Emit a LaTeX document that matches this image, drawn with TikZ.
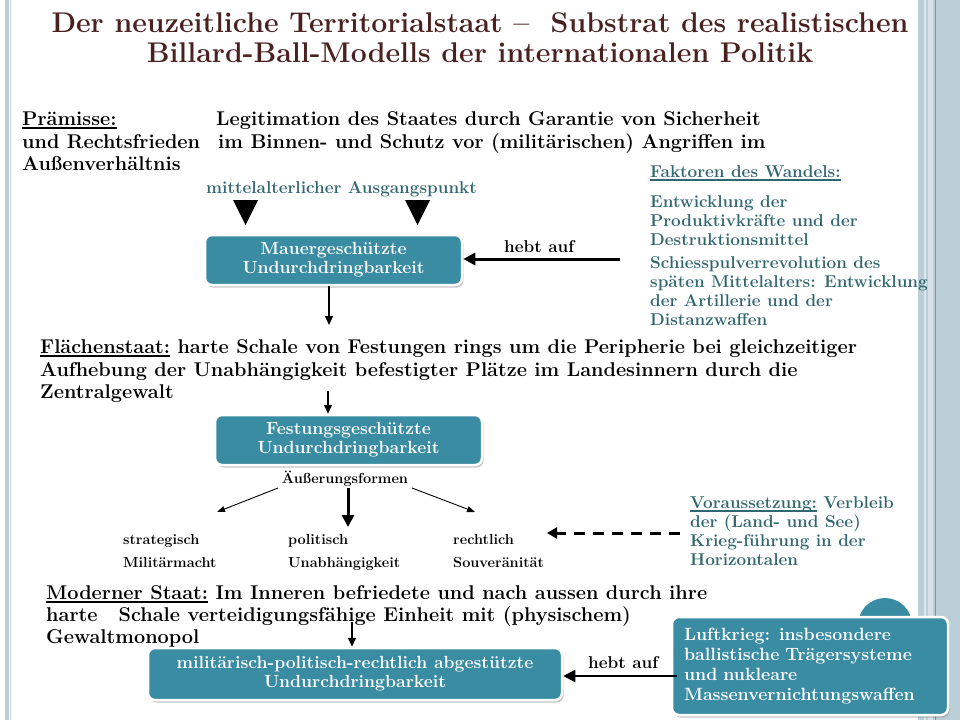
\documentclass[tikz,border=0pt]{standalone}
\usepackage{fontspec}
\usetikzlibrary{arrows.meta,shadows}
\definecolor{boxc}{HTML}{3A8CA3}
\definecolor{tealtxt}{HTML}{316770}
\definecolor{titlec}{HTML}{4A2020}
\definecolor{stripe}{HTML}{BCCFD8}
\definecolor{stripedk}{HTML}{6A9BAA}
\definecolor{stripelt}{HTML}{DCE7EB}
\newcommand\ftitle{\fontsize{28.5}{30}\selectfont\bfseries}
\newcommand\fbody{\fontsize{19.9}{22.5}\selectfont\bfseries}
\newcommand\flab{\fontsize{17.1}{19}\selectfont\bfseries}
\newcommand\fboxt{\fontsize{17.6}{19}\selectfont\bfseries}
\newcommand\fbig{\fontsize{17.8}{20}\selectfont\bfseries}
\newcommand\fsmall{\fontsize{14.5}{16}\selectfont\bfseries}
\newcommand\uln[1]{\setbox0\hbox{#1}\rlap{\rule[-3.6pt]{\wd0}{1.2pt}}\box0\relax}
\begin{document}
\begin{tikzpicture}[x=1pt,y=-1pt,
  every node/.style={inner sep=0pt},
  body/.style={anchor=base west,font=\fbody,text=black},
  lab/.style={anchor=base west,font=\flab,text=tealtxt},
  sml/.style={anchor=base west,font=\fsmall,text=black},
  ubox/.style={rounded corners=7pt,fill=boxc,draw=white,line width=2.5pt,
    drop shadow={shadow xshift=1.5pt,shadow yshift=-2.5pt,opacity=.45},
    text=white,font=\fboxt,align=center},
  arr/.style={-{Triangle[length=9pt,width=8pt]},line width=1.6pt},
  arrthick/.style={-{Triangle[length=12pt,width=12pt]},line width=3pt},
  arrthin/.style={-{Triangle[length=8pt,width=6pt]},line width=0.9pt},
  arrdash/.style={-{Triangle[length=10pt,width=11pt]},line width=3pt,dash pattern=on 11pt off 8pt}]
\useasboundingbox (0,0) rectangle (960,720);
\fill[white] (0,0) rectangle (960,720);
% side stripes
\fill[stripe] (4.5,0) rectangle (9,720);
\draw[stripe!80!white,line width=0.8pt] (10.5,0) -- (10.5,720);
\fill[stripe] (918,0) rectangle (960,720);
\fill[stripelt] (923.5,0) rectangle (925.5,720);
\fill[stripe!60!white] (928,0) rectangle (933,720);
\draw[stripedk,line width=1pt] (935.5,0) -- (935.5,720);
% title
\node[font=\ftitle,text=titlec,anchor=base] (t1) at (480,32) {Der neuzeitliche Territorialstaat –\ \ Substrat des realistischen};
\node[font=\ftitle,text=titlec,anchor=base] (t2) at (480,62) {Billard-Ball-Modells der internationalen Politik};
% Praemisse
\node[body] (p1) at (22,125) {\uln{Prämisse:}};
\node[body] (p1b) at (216,125) {Legitimation des Staates durch Garantie von Sicherheit};
\node[body] (p2) at (22,148) {und Rechtsfrieden};
\node[body] (p2b) at (218,148) {im Binnen- und Schutz vor (militärischen) Angriffen im};
\node[body] (p3) at (22,170) {Außenverhältnis};
\node[lab,anchor=base] (ma) at (341.5,193) {mittelalterlicher Ausgangspunkt};
\fill (233,200) -- (258,200) -- (245.5,225) -- cycle;
\fill (405,200) -- (430,200) -- (417.5,225) -- cycle;
% box 1
\node[ubox,minimum width=257pt,minimum height=50pt] (b1) at (333.5,260) {Mauergeschützte\\Undurchdringbarkeit};
\coordinate (c1) at (329,325);
\draw[arr] (c1 |- b1.south) -- (c1);
\node[lab,text=black] (h1) at (504,252) {hebt auf};
\coordinate (c2) at (620,259);
\draw[arrthick] (c2) -- (c2 -| b1.east);
% Faktoren
\node[lab] (f0) at (650,177) {\uln{Faktoren des Wandels:}};
\node[lab] (f1) at (650,207) {Entwicklung der};
\node[lab] (f2) at (650,226) {Produktivkräfte und der};
\node[lab] (f3) at (650,245) {Destruktionsmittel};
\node[lab] (f4) at (650,268) {Schiesspulverrevolution des};
\node[lab] (f5) at (650,287) {späten Mittelalters: Entwicklung};
\node[lab] (f6) at (650,306) {der Artillerie und der};
\node[lab] (f7) at (650,325) {Distanzwaffen};
% Flaechenstaat
\node[body] (fl1) at (40,353) {\uln{Flächenstaat:} harte Schale von Festungen rings um die Peripherie bei gleichzeitiger};
\node[body] (fl2) at (40,376) {Aufhebung der Unabhängigkeit befestigter Plätze im Landesinnern durch die};
\node[body] (fl3) at (40,398) {Zentralgewalt};
\node[ubox,minimum width=267pt,minimum height=50pt] (b2) at (348.5,440) {Festungsgeschützte\\Undurchdringbarkeit};
\coordinate (c3) at (328,391);
\draw[arr] (c3) -- (c3 |- b2.north);
% Aeusserungsformen
\node[sml,anchor=base] (ae) at (345,483) {Äußerungsformen};
\coordinate (a1s) at (278,488); \coordinate (a1e) at (217,512);
\coordinate (a2s) at (348,488); \coordinate (a2e) at (348,527);
\coordinate (a3s) at (412,488); \coordinate (a3e) at (475,512);
\draw[arrthin] (a1s) -- (a1e);
\draw[arrthick] (a2s) -- (a2e);
\draw[arrthin] (a3s) -- (a3e);
\node[sml] (s1) at (123,544) {strategisch};
\node[sml] (s2) at (123,567) {Militärmacht};
\node[sml] (s3) at (288,544) {politisch};
\node[sml] (s4) at (288,567) {Unabhängigkeit};
\node[sml] (s5) at (453,544) {rechtlich};
\node[sml] (s6) at (453,567) {Souveränität};
% Voraussetzung
\node[lab] (v1) at (690,508) {\uln{Voraussetzung:} Verbleib};
\node[lab] (v2) at (690,527) {der (Land- und See)};
\node[lab] (v3) at (690,546) {Krieg-führung in der};
\node[lab] (v4) at (690,565) {Horizontalen};
\coordinate (d1) at (680,533); \coordinate (d2) at (547,533);
\draw[arrdash] (d1) -- (d2);
% Moderner Staat
\node[body] (m1) at (46,599) {\uln{Moderner Staat:} Im Inneren befriedete und nach aussen durch ihre};
\node[body] (m2) at (46,621) {harte\hspace{21pt}Schale verteidigungsfähige Einheit mit (physischem)};
\node[body] (m3) at (46,643) {Gewaltmonopol};
\node[ubox,minimum width=414pt,minimum height=52pt] (b3) at (355,674) {militärisch-politisch-rechtlich abgestützte\\Undurchdringbarkeit};
\coordinate (c4) at (352,622);
\draw[arr] (c4) -- (c4 |- b3.north);
\node[lab,text=black] (h2) at (588,668) {hebt auf};
% circle and box 4
\fill[boxc] (885,625) circle (27);
\node[ubox,align=left,font=\fbig,text width=252pt,inner xsep=12pt,minimum height=98pt] (b4) at (810,666) {Luftkrieg: insbesondere\\ballistische Trägersysteme\\und nukleare\\Massenvernichtungswaffen};
\coordinate (c5) at (677,676);
\draw[arrthick,line width=2.5pt] (c5) -- (c5 -| b3.east);
\end{tikzpicture}
\end{document}
